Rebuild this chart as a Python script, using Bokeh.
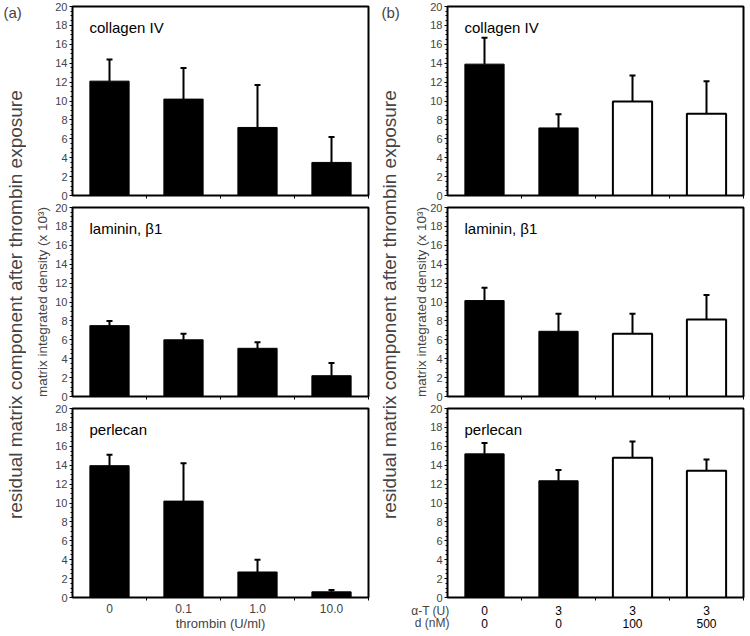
from math import pi
from bokeh.plotting import figure
from bokeh.layouts import row, column
from bokeh.models import (ColumnDataSource, Range1d, FixedTicker,
                          SingleIntervalTicker, Label, Whisker, TeeHead)
from bokeh.core.properties import value
from bokeh.embed import file_html
from bokeh.resources import INLINE

# ---------------- data ----------------
thrombin_u_ml = ["0", "0.1", "1.0", "10.0"]
alpha_t_units = ["0", "3", "3", "3"]
d_nm = ["0", "0", "100", "500"]

components = ["collagen IV", "laminin, \u03b21", "perlecan"]

a_collagen = [12.1, 10.2, 7.2, 3.5]
a_collagen_err = [2.3, 3.3, 4.5, 2.7]
a_laminin = [7.5, 6.0, 5.1, 2.2]
a_laminin_err = [0.5, 0.65, 0.65, 1.35]
a_perlecan = [13.95, 10.2, 2.7, 0.6]
a_perlecan_err = [1.15, 4.0, 1.3, 0.2]

b_collagen = [13.9, 7.15, 9.95, 8.65]
b_collagen_err = [2.8, 1.45, 2.75, 3.45]
b_laminin = [10.15, 6.9, 6.65, 8.15]
b_laminin_err = [1.35, 1.85, 2.1, 2.6]
b_perlecan = [15.2, 12.35, 14.8, 13.4]
b_perlecan_err = [1.15, 1.15, 1.7, 1.2]

y_max = 20
y_tick_step = 2

big_label = "residual matrix  component after thrombin exposure"
small_label = "matrix integrated density (x 10\u00b3)"
x_title_a = "thrombin (U/ml)"
row_heads = ["\u03b1-T (U)", "d (nM)"]

# ---------------- style ----------------
FONT = "Liberation Sans"
FRAME_H = 189
GAP = 6
FOOT_H = 30


def make_panel(vals, errs, title, fills, lws, frame_w, left, right, top, bottom,
               x_range=None):
    n = len(vals)
    xs = [i + 0.5 for i in range(n)]
    src = ColumnDataSource(dict(x=xs, top=vals,
                                upper=[v + e for v, e in zip(vals, errs)],
                                fill=fills, lw=lws))
    p = figure(frame_width=frame_w, frame_height=FRAME_H,
               x_range=x_range if x_range is not None else Range1d(0, n),
               y_range=Range1d(0, y_max),
               toolbar_location=None, output_backend="svg",
               min_border_left=left, min_border_right=right,
               min_border_top=top, min_border_bottom=bottom)
    p.grid.visible = False
    p.outline_line_color = "black"
    p.outline_line_width = 2

    p.vbar(x="x", top="top", bottom=0, width=0.53, fill_color="fill",
           line_color="black", line_width="lw", source=src)
    p.add_layout(Whisker(source=src, base="x", lower="top", upper="upper",
                         dimension="height", line_color="black", line_width=2,
                         upper_head=TeeHead(size=6, line_width=2, line_color="black"),
                         lower_head=None))

    ya = p.yaxis[0]
    ya.ticker = SingleIntervalTicker(interval=y_tick_step, num_minor_ticks=4)
    ya.major_tick_out = 3
    ya.major_tick_in = 0
    ya.minor_tick_out = 2
    ya.minor_tick_in = 0
    ya.major_label_standoff = 2
    ya.major_label_text_font = FONT
    ya.major_label_text_font_size = "11px"
    ya.axis_line_color = "black"

    # x axis: small ticks on the category boundaries, no labels
    xa = p.xaxis[0]
    xa.ticker = FixedTicker(ticks=[], minor_ticks=list(range(1, n + 1)))
    xa.major_tick_out = 0
    xa.major_tick_in = 0
    xa.minor_tick_out = 3
    xa.minor_tick_in = 0
    xa.axis_line_color = "black"
    xa.major_label_text_font = FONT
    xa.major_label_text_font_size = "12px"

    p.add_layout(Label(x=0, y=y_max, x_offset=17, y_offset=-12, text=title,
                       text_baseline="top", text_font=FONT,
                       text_font_size="15px", text_color="black"))
    return p, xs


def set_small_label(p, standoff):
    ya = p.yaxis[0]
    ya.axis_label = small_label
    ya.axis_label_standoff = standoff
    ya.axis_label_text_font = FONT
    ya.axis_label_text_font_size = "13.5px"
    ya.axis_label_text_font_style = "normal"


# ---------------- panel (a) ----------------
black_fill = ["black"] * len(thrombin_u_ml)
black_lw = [1] * len(thrombin_u_ml)
FW_A, LB_A, RB_A = 296, 46, 2
a1, _ = make_panel(a_collagen, a_collagen_err, components[0], black_fill, black_lw, FW_A, LB_A, RB_A, GAP, GAP)
a2, _ = make_panel(a_laminin, a_laminin_err, components[1], black_fill, black_lw, FW_A, LB_A, RB_A, GAP, GAP)
a3, xs_a = make_panel(a_perlecan, a_perlecan_err, components[2], black_fill, black_lw, FW_A, LB_A, RB_A, GAP, GAP)
set_small_label(a2, 2)

xa3 = a3.xaxis[0]
xa3.ticker = FixedTicker(ticks=xs_a, minor_ticks=list(range(1, len(xs_a) + 1)))
xa3.major_label_overrides = {x: t for x, t in zip(xs_a, thrombin_u_ml)}
xa3.major_label_standoff = 3
xa3.axis_label = x_title_a
xa3.axis_label_standoff = 0
xa3.axis_label_text_font = FONT
xa3.axis_label_text_font_size = "13px"
xa3.axis_label_text_font_style = "normal"

# ---------------- panel (b) ----------------
b_fill = ["black" if d == "0" else "white" for d in d_nm]
b_lw = [1 if d == "0" else 2 for d in d_nm]
FW_B, LB_B, RB_B = 296, 45, 3
b1, _ = make_panel(b_collagen, b_collagen_err, components[0], b_fill, b_lw, FW_B, LB_B, RB_B, GAP, GAP)
b2, _ = make_panel(b_laminin, b_laminin_err, components[1], b_fill, b_lw, FW_B, LB_B, RB_B, GAP, GAP)
b3, xs_b = make_panel(b_perlecan, b_perlecan_err, components[2], b_fill, b_lw, FW_B, LB_B, RB_B, GAP, GAP)
set_small_label(b2, -2)

# treatment table under panel (b)
row_y = [1.53, 0.67]
foot = figure(frame_width=FW_B, frame_height=FOOT_H, x_range=b3.x_range,
              y_range=Range1d(0, 2), toolbar_location=None, output_backend="svg",
              min_border_left=LB_B, min_border_right=RB_B, min_border_top=0,
              min_border_bottom=0, x_axis_location=None)
foot.grid.visible = False
foot.outline_line_color = None
for yv, labels in zip(row_y, [alpha_t_units, d_nm]):
    src = ColumnDataSource(dict(x=xs_b, y=[yv] * len(xs_b), t=labels))
    foot.text(x="x", y="y", text="t", source=src, text_align="center",
              text_baseline="middle", text_font=value(FONT),
              text_font_size=value("12px"), text_color="black")
fy = foot.yaxis[0]
fy.ticker = FixedTicker(ticks=row_y)
fy.major_label_overrides = {yv: t for yv, t in zip(row_y, row_heads)}
fy.major_tick_out = 0
fy.major_tick_in = 0
fy.minor_tick_out = 0
fy.minor_tick_in = 0
fy.axis_line_color = None
fy.major_label_standoff = -2
fy.major_label_text_font = FONT
fy.major_label_text_font_size = "12px"

# ---------------- side label figures ----------------
LH = 3 * (GAP + FRAME_H + GAP) + FOOT_H


def side_fig(width, tag, tag_x, big_x):
    p = figure(width=width, height=LH, x_range=Range1d(0, width),
               y_range=Range1d(0, LH), min_border=0, toolbar_location=None,
               output_backend="svg", x_axis_type=None, y_axis_type=None)
    p.outline_line_color = None
    p.grid.visible = False
    p.add_layout(Label(x=tag_x, y=LH - 3, text=tag, text_baseline="top",
                       text_font=FONT, text_font_size="15px"))
    mid_center = LH - (GAP + FRAME_H + GAP + GAP + FRAME_H / 2)
    p.add_layout(Label(x=big_x, y=mid_center, text=big_label, angle=pi / 2,
                       text_align="center", text_baseline="middle",
                       text_font=FONT, text_font_size="19px"))
    return p


side_a = side_fig(26, "(a)", 3, 15)
side_b = side_fig(32, "(b)", 11, 19)

layout = row(side_a, column(a1, a2, a3), side_b, column(b1, b2, b3, foot))

open("out.html", "w").write(file_html(layout, INLINE))
